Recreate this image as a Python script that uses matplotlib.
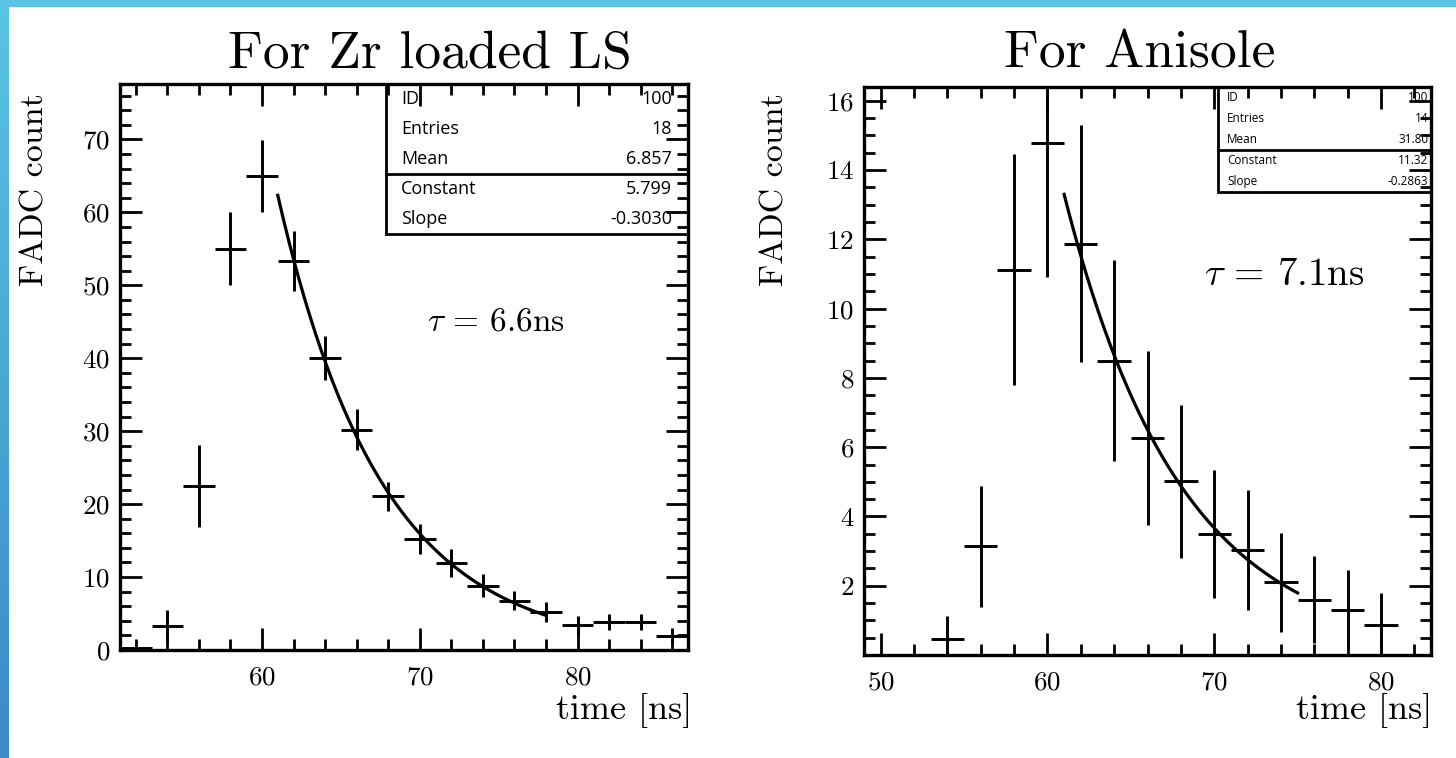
import numpy as np
import matplotlib as mpl
import matplotlib.pyplot as plt
from matplotlib.patches import Rectangle
from matplotlib.colors import LinearSegmentedColormap
from matplotlib.ticker import MultipleLocator, FixedLocator

# --- Zr loaded LS pulse (bins of 2 ns) ---
zr_time = [52, 54, 56, 58, 60, 62, 64, 66, 68, 70, 72, 74, 76, 78, 80, 82, 84, 86]
zr_count = [0.3, 3.3, 22.5, 55.0, 65.0, 53.3, 40.0, 30.2, 21.1, 15.2,
            11.9, 8.8, 6.75, 5.25, 3.4, 3.9, 3.8, 1.95]
zr_err = [0.3, 2.2, 5.6, 5.0, 4.9, 4.1, 3.0, 2.8, 2.0, 2.1,
          1.9, 1.6, 1.3, 1.35, 1.3, 1.1, 1.1, 1.0]
zr_stats_top = [("ID", "100"), ("Entries", "18"), ("Mean", "6.857")]
zr_stats_fit = [("Constant", "5.799"), ("Slope", "-0.3030")]
zr_fit_const, zr_fit_slope = 5.799, -0.3030
zr_fit_range = (61, 78)
zr_chan_offset = 50     # fit was done in channel units: ch = (t - offset) / 2

# --- Anisole pulse ---
an_time = [54, 56, 58, 60, 62, 64, 66, 68, 70, 72, 74, 76, 78, 80]
an_count = [0.46, 3.14, 11.13, 14.77, 11.88, 8.5, 6.26, 5.01, 3.5, 3.03,
            2.1, 1.6, 1.31, 0.87]
an_err = [0.68, 1.75, 3.33, 3.86, 3.43, 2.9, 2.52, 2.22, 1.85, 1.72,
          1.43, 1.25, 1.13, 0.91]
an_stats_top = [("ID", "100"), ("Entries", "14"), ("Mean", "31.80")]
an_stats_fit = [("Constant", "11.32"), ("Slope", "-0.2863")]
an_fit_const, an_fit_slope = 11.32, -0.2863
an_fit_range = (61, 75)
an_chan_offset = 0

W, H = 1456, 758

mpl.rcParams.update({
    "font.family": "cmr10",
    "mathtext.fontset": "cm",
    "axes.formatter.use_mathtext": True,
    "axes.linewidth": 2.4,
})


def px(x, y):
    # pixel position (from top-left) -> figure fraction
    return x / W, 1 - y / H


def stats_box(ax, x0, ysep, y0, top_rows, fit_rows, fs, xl, xr):
    ax.add_patch(Rectangle((x0, y0), 1 - x0, 1 - y0, transform=ax.transAxes,
                           facecolor="white", edgecolor="black", lw=2,
                           zorder=1, clip_on=False))
    ax.plot([x0, 1], [ysep, ysep], transform=ax.transAxes, color="black",
            lw=2, zorder=1.1, clip_on=False)
    rows = []
    h = (1 - ysep) / len(top_rows)
    for i, r in enumerate(top_rows):
        rows.append((r, 1 - h * (i + 0.5)))
    h = (ysep - y0) / len(fit_rows)
    for i, r in enumerate(fit_rows):
        rows.append((r, ysep - h * (i + 0.5)))
    for (name, val), yy in rows:
        ax.text(xl, yy, name, transform=ax.transAxes, ha="left", va="center",
                family="Open Sans", fontsize=fs, zorder=1.2)
        ax.text(xr, yy, val, transform=ax.transAxes, ha="right", va="center",
                family="Open Sans", fontsize=fs, zorder=1.2)


def panel(rect, t, y, err, xlim, ylim, fit, fit_range, chan_offset):
    ax = fig.add_axes(rect)
    ax.errorbar(t, y, xerr=1.0, yerr=err, fmt="none", ecolor="black",
                elinewidth=2.1, capsize=0)
    tt = np.linspace(fit_range[0], fit_range[1], 200)
    ax.plot(tt, np.exp(fit[0] + fit[1] * (tt - chan_offset) / 2.0),
            color="black", lw=2.3)
    ax.set_xlim(*xlim)
    ax.set_ylim(*ylim)
    ax.xaxis.set_major_locator(MultipleLocator(10))
    ax.xaxis.set_minor_locator(MultipleLocator(2))
    ax.tick_params(which="both", direction="in", top=True, right=True,
                   width=2.0, labelsize=19.5)
    ax.tick_params(which="major", length=16)
    ax.tick_params(which="minor", length=8)
    ax.tick_params(axis="x", pad=11)
    ax.tick_params(axis="y", pad=7)
    return ax


fig = plt.figure(figsize=(W / 100, H / 100), dpi=100)

# blue slide border
strip = fig.add_axes([0, 0, 9 / W, 1])
strip.imshow(np.linspace(0, 1, 256)[:, None], aspect="auto",
             cmap=LinearSegmentedColormap.from_list("edge", ["#5AC4E2", "#3A8BC7"]))
strip.axis("off")
fig.add_artist(Rectangle((0, 1 - 6 / H), 1, 6 / H, transform=fig.transFigure,
                         color="#5AC4E2", zorder=5))

# left panel
ax1 = panel([120 / W, 1 - 650 / H, 568 / W, 566 / H], zr_time, zr_count, zr_err,
            (51, 87), (0, 77.6), (zr_fit_const, zr_fit_slope), zr_fit_range,
            zr_chan_offset)
ax1.yaxis.set_major_locator(MultipleLocator(10))
ax1.yaxis.set_minor_locator(MultipleLocator(2))
stats_box(ax1, 0.468, 0.8405, 0.735, zr_stats_top, zr_stats_fit, 13,
          0.495, 0.972)
ax1.text(0.662, 0.58, r"$\tau$ = 6.6ns", transform=ax1.transAxes,
         ha="center", va="center", fontsize=24)

# right panel
ax2 = panel([864 / W, 1 - 655 / H, 567 / W, 568 / H], an_time, an_count, an_err,
            (49, 83), (0, 16.4), (an_fit_const, an_fit_slope), an_fit_range,
            an_chan_offset)
ax2.yaxis.set_major_locator(FixedLocator(list(range(2, 17, 2))))
ax2.yaxis.set_minor_locator(MultipleLocator(0.5))
stats_box(ax2, 0.625, 0.889, 0.8157, an_stats_top, an_stats_fit, 8.5,
          0.64, 0.995)
ax2.text(0.741, 0.669, r"$\tau$ = 7.1ns", transform=ax2.transAxes,
         ha="center", va="center", fontsize=28)

# titles and axis labels (placed like the ROOT canvas)
fig.text(*px(430, 68), "For Zr loaded LS", ha="center", va="baseline", fontsize=38.5)
fig.text(*px(1140, 68), "For Anisole", ha="center", va="baseline", fontsize=38.5)
for xl in (35, 775):
    fig.text(*px(xl, 93), "FADC count", rotation=90, ha="center", va="top",
             fontsize=24.5)
for xr in (692, 1432):
    fig.text(*px(xr, 719), "time [ns]", ha="right", va="baseline", fontsize=26)

fig.savefig("out.png", dpi=100)
